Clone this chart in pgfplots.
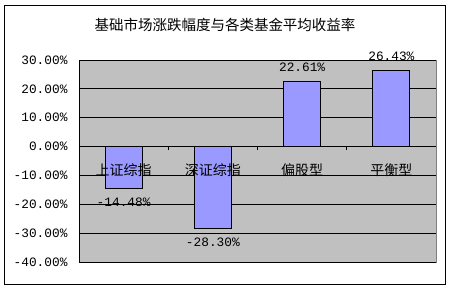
\documentclass[border=0pt]{standalone}
\usepackage{pgfplots}
\pgfplotsset{compat=1.18}
\usepackage{fontspec}
\setmainfont{Liberation Mono}
\newfontfamily\cjk{Noto Sans CJK SC}
\definecolor{barfill}{HTML}{9999FF}
\definecolor{plotbg}{HTML}{C0C0C0}
\definecolor{plotedge}{HTML}{808080}
\pgfplotsset{
  common/.style={
    at={(79pt,26pt)}, anchor=south west,
    scale only axis, width=357pt, height=202pt,
    xmin=-0.5, xmax=3.5, ymin=-40, ymax=30,
    axis x line*=middle, axis y line*=left,
    clip=false,
  },
}
\begin{document}
\begin{tikzpicture}
\useasboundingbox (0,0) rectangle (450pt,288pt);
\fill[white] (0,0) rectangle (450pt,288pt);
\begin{axis}[
  common,
  axis line style={black, line width=0.8pt},
  axis background/.style={fill=plotbg, draw=plotedge, line width=0.8pt},
  ymajorgrids, grid style={black, line width=0.8pt},
  ytick={-40,-30,...,30},
  yticklabels={-40.00\%,-30.00\%,-20.00\%,-10.00\%,0.00\%,10.00\%,20.00\%,30.00\%},
  yticklabel style={font=\fontsize{12.8}{13}\selectfont, xshift=-8pt},
  major y tick style={draw=none},
  xtick={0,1,2,3},
  xticklabels={},
  major x tick style={draw=none},
  minor xtick={0.5,1.5,2.5},
  xtick align=inside,
  minor tick length=3pt,
  minor x tick style={black, line width=0.8pt},
  ybar, bar width=0.415,
  nodes near coords={\pgfmathprintnumber[fixed,fixed zerofill,precision=2,assume math mode=true]{\pgfplotspointmeta}\%},
  nodes near coords align=vertical,
  every node near coord/.append style={font=\fontsize{12.8}{13}\selectfont, inner sep=9.5pt, black},
]
\addplot[fill=barfill, draw=black, line width=0.8pt] coordinates {(0,-14.48) (1,-28.30) (2,22.61) (3,26.43)};
\end{axis}
\begin{axis}[
  common,
  hide y axis,
  x axis line style={draw=none},
  xtick={0,1,2,3},
  xticklabels={上证综指,深证综指,偏股型,平衡型},
  xticklabel style={font=\cjk\fontsize{14}{15}\selectfont, yshift=-14pt},
  major x tick style={draw=none},
]
\end{axis}
\node[font=\cjk\fontsize{14.5}{15}\selectfont] at (225pt,263pt) {基础市场涨跌幅度与各类基金平均收益率};
\draw[black, line width=0.8pt] (4pt,4pt) rectangle (445pt,283pt);
\end{tikzpicture}
\end{document}
